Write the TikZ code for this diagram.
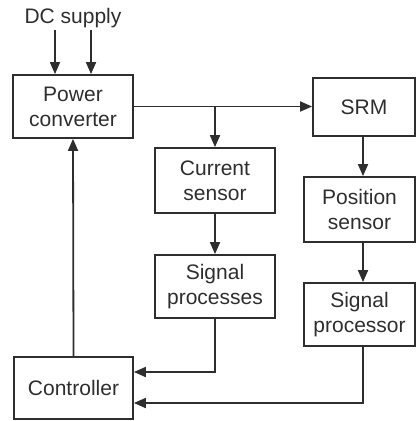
\documentclass[tikz,border=0pt]{standalone}
\usepackage{fontspec}
\setmainfont{Liberation Sans}
\usepackage{tikz}
\usetikzlibrary{arrows.meta, calc}
\definecolor{srmink}{HTML}{2E2E2E}

\begin{document}
\begin{tikzpicture}[
  x=0.5pt, y=-0.5pt,
  font=\fontsize{10.5}{12.4}\selectfont,
  >={Triangle[length=6pt, width=5pt]},
  every node/.style={text=srmink},
  blk/.style={draw=srmink, line width=0.9pt, align=center, inner sep=2pt},
  flow/.style={->, draw=srmink, line width=0.9pt}
]
\useasboundingbox (0,0) rectangle (417,421);

% Left column
\node[inner sep=1pt] (dc) at (73,18) {DC supply};
\node[blk, minimum width=60pt, minimum height=31.5pt] (pc) at (73,106.5) {Power\\ converter};
\node[blk, minimum width=59.5pt, minimum height=31pt] (ctrl) at (73.5,388) {Controller};

% Middle column
\node[blk, minimum width=60pt, minimum height=32.5pt] (cs) at (215,180.5) {Current\\ sensor};
\node[blk, minimum width=60pt, minimum height=31.5pt] (spa) at (215,286.5) {Signal\\ processes};

% Right column
\node[blk, minimum width=51pt, minimum height=29pt] (srm) at (364,107) {SRM};
\node[blk, minimum width=55.5pt, minimum height=32.5pt] (pos) at (359.5,209.5) {Position\\ sensor};
\node[blk, minimum width=55.5pt, minimum height=31.5pt] (spb) at (359.5,314.5) {Signal\\ processor};

% Edges: supply into the converter
\draw[flow] ($(dc.south)+(-18,0)$) -- ($(pc.north)+(-18,0)$);
\draw[flow] ($(dc.south)+(18,0)$) -- ($(pc.north)+(18,0)$);

% Edges: converter to motor, tapped by the current sensor
\draw[flow] (pc.east) -- (srm.west |- pc.east);
\draw[flow] (pc.east -| cs.north) -- (cs.north);
\draw[flow] (cs) -- (spa);

% Edges: position chain
\draw[flow] (srm.south -| 363,0) -- (pos.north -| 363,0);
\draw[flow] (pos.south -| 363,0) -- (spb.north -| 363,0);

% Edges: feedback into the controller
\draw[flow] (spa.south) |- ($(ctrl.east)+(0,-16)$);
\draw[flow] (spb.south -| 363,0) |- ($(ctrl.east)+(0,15)$);
\draw[flow] (ctrl.north) -- (pc.south);

\end{tikzpicture}
\end{document}
